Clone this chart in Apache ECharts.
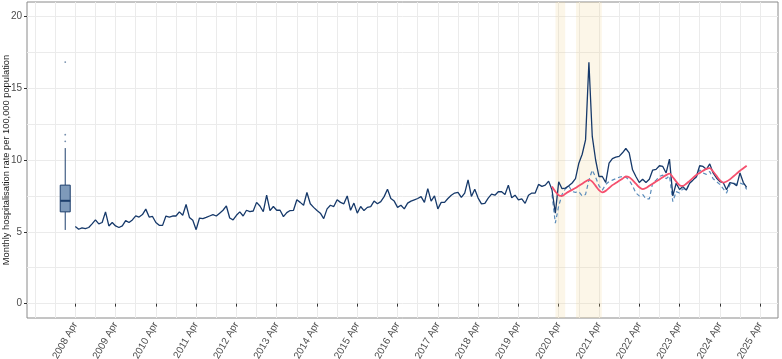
<!DOCTYPE html>
<html>
<head>
<meta charset="utf-8">
<script src="https://cdn.jsdelivr.net/npm/echarts@6/dist/echarts.min.js"></script>
<style>
  html, body { margin: 0; padding: 0; background: #fff; }
  #chart { width: 782px; height: 359px; }
</style>
</head>
<body>
<div id="chart"></div>
<script>
// monthly series start at 2008 Apr
const startYear = 2008.25;

const observed = [
  5.37, 5.18, 5.28, 5.22, 5.3, 5.55, 5.83, 5.55, 5.65, 6.39,
  5.41, 5.65, 5.41, 5.3, 5.41, 5.78, 5.65, 5.83, 6.11, 6.03,
  6.2, 6.58, 6.03, 6.07, 5.65, 5.45, 5.45, 6.1, 6.03, 6.1,
  6.1, 6.39, 6.15, 6.9, 6.0, 5.8, 5.15, 5.96, 5.92, 6.0,
  6.1, 6.2, 6.1, 6.3, 6.5, 6.8, 5.96, 5.83, 6.15, 6.39,
  6.1, 6.5, 6.4, 6.45, 7.05, 6.8, 6.4, 7.55,
  6.48, 6.76,
  6.5, 6.5, 6.06, 6.34, 6.48, 6.5, 7.23, 7.05, 6.85, 7.74,
  6.95, 6.7, 6.48, 6.3, 5.92, 6.6, 6.85, 6.76, 7.23, 7.05,
  6.95, 7.5, 6.5, 7.0, 6.3, 6.76, 6.48, 6.7, 6.76, 7.14,
  6.95, 7.1, 7.45, 7.97, 7.32, 7.14, 6.7, 6.85, 6.6, 7.0,
  7.14, 7.23, 7.32, 7.45, 7.05, 8.01, 7.14, 7.5, 6.6, 7.05,
  7.05, 7.32, 7.55, 7.7, 7.74, 7.4, 7.7,
  8.62, 7.46, 7.97,
  7.35, 6.95, 6.98, 7.35, 7.63, 7.55, 7.79, 7.79, 7.6, 8.25,
  7.37, 7.55, 7.23, 7.3, 6.98, 7.55, 7.7, 7.7, 8.3, 8.16,
  8.25, 8.53, 7.93, 6.3, 8.48, 8.0, 8.04, 8.2, 8.4, 8.7,
  9.78, 10.4, 11.4, 16.8, 11.64, 10.0, 8.85, 8.85, 8.43, 9.78,
  10.1, 10.2, 10.25, 10.5, 10.8, 10.5, 9.32, 8.85, 8.43,
  8.66, 8.43, 8.66, 9.3, 9.35, 9.6, 9.55, 9.1, 10.06, 7.5,
  8.38, 7.95, 8.15, 7.9, 8.38, 8.6, 8.85, 9.6, 9.55, 9.35,
  9.73, 9.1, 8.75, 8.5, 8.43, 7.93, 8.43, 8.38, 8.2, 9.1,
  8.43, 8.1
];

// expected and adjusted series start at 2020 Feb (month 142)
const modelStart = 142;
const expected = [
  8.15, 7.8, 7.55, 7.5, 7.65, 7.8, 7.92, 8.05, 8.2, 8.35,
  8.5, 8.62, 8.5, 8.2, 7.9, 7.75, 7.85, 8.05, 8.25, 8.4,
  8.55, 8.7, 8.85, 8.8, 8.6, 8.35, 8.1, 7.97, 8.05, 8.2,
  8.35, 8.5, 8.65, 8.8, 8.95, 9.05, 8.8, 8.5, 8.25, 8.2,
  8.35, 8.55, 8.75, 8.95, 9.1, 9.25, 9.38, 9.43, 9.2, 8.9,
  8.6, 8.43, 8.5, 8.65, 8.85, 9.05, 9.25, 9.42, 9.6
];
const adjusted = [
  7.6, 5.6, 6.8, 7.6, 8.0, 8.2, 7.8, 7.75, 7.8, 7.5,
  7.6, 8.6, 9.3, 8.8, 8.2, 7.9, 8.3, 8.5, 8.6, 8.7,
  8.8, 8.85, 8.8, 8.6, 8.2, 7.7, 7.5, 7.6, 7.3, 7.3,
  8.4, 8.6, 8.85, 8.95, 8.7, 8.9, 7.1, 7.8, 7.7, 8.0,
  7.9, 8.4, 8.6, 8.8, 9.3, 9.1, 9.0, 9.2, 8.7, 8.5,
  8.3, 8.0, 7.7, 8.3, 8.4, 8.3, 8.4, 8.3, 7.95
];

// boxplot of the observed rates, drawn at 2008 Jan
const boxX = 2008.0;
const boxStats = [5.13, 6.39, 7.16, 8.25, 10.83];
const boxOutliers = [11.3, 11.76, 16.82];

// shaded periods (fractional years)
const shadePeriods = [[2020.17, 2020.41], [2020.68, 2021.32]];

const xTickLabels = ['2008 Apr', '2009 Apr', '2010 Apr', '2011 Apr', '2012 Apr', '2013 Apr',
  '2014 Apr', '2015 Apr', '2016 Apr', '2017 Apr', '2018 Apr', '2019 Apr', '2020 Apr',
  '2021 Apr', '2022 Apr', '2023 Apr', '2024 Apr', '2025 Apr'];
const yTicks = [0, 5, 10, 15, 20];

const xMin = 2007.051, xMax = 2025.694;
const xMajor = xTickLabels.map((_, k) => startYear + k);
const xGrid = [];
for (let v = 2007.25; v < xMax; v += 0.5) xGrid.push(v);
const yGrid = [];
for (let v = 0; v <= 20; v += 2.5) yGrid.push(v);

const toPoints = (arr, offset) => arr.map((v, i) => [startYear + (offset + i) / 12, v]);

const chart = echarts.init(document.getElementById('chart'));
const font = 'Liberation Sans';
const gridColor = '#ebebeb';

chart.setOption({
  animation: false,
  textStyle: { fontFamily: font },
  grid: {
    left: 27, right: 4, top: 2, bottom: 41,
    outerBoundsMode: 'none', containLabel: false,
    show: true, borderColor: '#8a8a8a', borderWidth: 1, backgroundColor: 'transparent'
  },
  xAxis: [
    {
      type: 'value', min: xMin, max: xMax,
      axisLine: { show: false },
      axisTick: { show: false, customValues: xGrid },
      axisLabel: { show: false },
      splitLine: { show: true, lineStyle: { color: gridColor, width: 1 } }
    },
    {
      type: 'value', min: xMin, max: xMax, position: 'bottom',
      axisLine: { show: false },
      axisTick: { show: true, customValues: xMajor, length: 3, lineStyle: { color: '#333' } },
      axisLabel: {
        customValues: xMajor, rotate: 60, margin: 5, color: '#4d4d4d', fontSize: 10,
        fontFamily: font,
        formatter: (v) => xTickLabels[Math.round(v - startYear)]
      },
      splitLine: { show: false }
    }
  ],
  yAxis: [
    {
      type: 'value', min: -1, max: 21,
      axisLine: { show: false },
      axisTick: { show: false, customValues: yGrid },
      axisLabel: { show: false },
      splitLine: { show: true, lineStyle: { color: gridColor, width: 1 } }
    },
    {
      type: 'value', min: -1, max: 21, position: 'left',
      name: 'Monthly hospitalisation rate per 100,000 population',
      nameLocation: 'middle', nameGap: 16, nameMoveOverlap: false,
      nameTextStyle: { color: '#1a1a1a', fontSize: 9.3, fontFamily: font },
      axisLine: { show: false },
      axisTick: { show: true, customValues: yTicks, length: 3, lineStyle: { color: '#333' } },
      axisLabel: { customValues: yTicks, margin: 5, color: '#4d4d4d', fontSize: 10, fontFamily: font },
      splitLine: { show: false }
    }
  ],
  series: [
    {
      name: 'shade', type: 'line', data: [], z: 1, silent: true,
      markArea: {
        silent: true,
        itemStyle: { color: 'rgba(240, 215, 150, 0.22)' },
        data: shadePeriods.map(p => [{ xAxis: p[0] }, { xAxis: p[1] }])
      }
    },
    {
      name: 'box', type: 'custom', z: 3, silent: true,
      data: [[boxX].concat(boxStats)],
      renderItem: (params, api) => {
        const x = api.value(0);
        const p = (k) => api.coord([x, api.value(k)]);
        const lo = p(1), q1 = p(2), med = p(3), q3 = p(4), hi = p(5);
        const hw = 5;
        const stroke = '#1d3f6c';
        return {
          type: 'group',
          children: [
            { type: 'line', shape: { x1: lo[0], y1: lo[1], x2: q1[0], y2: q1[1] }, style: { stroke, lineWidth: 1 } },
            { type: 'line', shape: { x1: q3[0], y1: q3[1], x2: hi[0], y2: hi[1] }, style: { stroke, lineWidth: 1 } },
            { type: 'rect', shape: { x: q3[0] - hw, y: q3[1], width: hw * 2, height: q1[1] - q3[1] },
              style: { fill: '#7e9aba', stroke, lineWidth: 1 } },
            { type: 'line', shape: { x1: med[0] - hw, y1: med[1], x2: med[0] + hw, y2: med[1] }, style: { stroke, lineWidth: 2 } }
          ]
        };
      }
    },
    {
      name: 'outliers', type: 'scatter', z: 3, silent: true,
      data: boxOutliers.map(v => [boxX, v]),
      symbolSize: 1.8,
      itemStyle: { color: '#4f6f96' }
    },
    {
      name: 'adjusted', type: 'line', z: 4, silent: true,
      data: toPoints(adjusted, modelStart),
      showSymbol: false,
      lineStyle: { color: '#5b8cba', width: 1.2, type: [4, 3] }
    },
    {
      name: 'observed', type: 'line', z: 5, silent: true,
      data: toPoints(observed, 0),
      showSymbol: false,
      lineStyle: { color: '#16396a', width: 1.3 }
    },
    {
      name: 'expected', type: 'line', z: 6, silent: true,
      data: toPoints(expected, modelStart),
      showSymbol: false, smooth: 0.3,
      lineStyle: { color: '#f5506e', width: 1.8 }
    }
  ]
});
</script>
</body>
</html>
